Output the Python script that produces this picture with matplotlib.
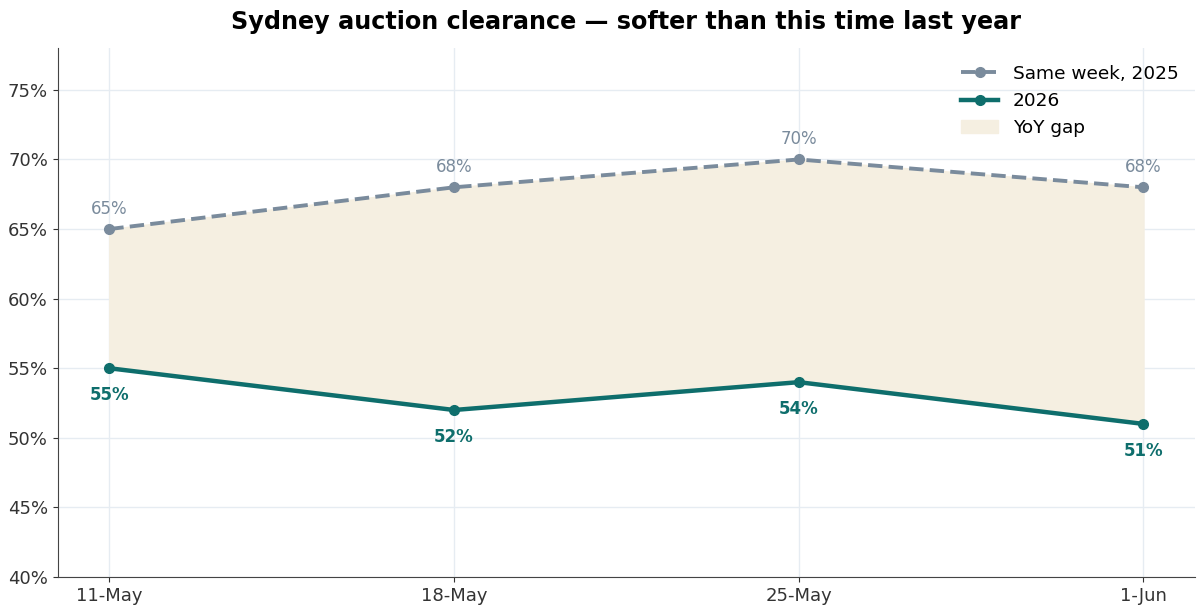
import matplotlib.pyplot as plt

weeks = ['11-May', '18-May', '25-May', '1-Jun']
last_year = [65, 68, 70, 68]
this_year = [55, 52, 54, 51]

grey = '#7a8b9c'
teal = '#0e6e6c'
fill = '#f5efe1'

fig = plt.figure(figsize=(12, 6.09), dpi=100)
ax = fig.add_axes([0.048, 0.0525, 0.948, 0.8685])

x = list(range(len(weeks)))
ax.fill_between(x, this_year, last_year, color=fill, label='YoY gap', zorder=1)
ax.plot(x, last_year, '--', color=grey, lw=2.8, marker='o', ms=7,
        label='Same week, 2025', zorder=3)
ax.plot(x, this_year, '-', color=teal, lw=3.2, marker='o', ms=7,
        label='2026', zorder=4)

for i, v in enumerate(last_year):
    ax.annotate(f'{v}%', (i, v), xytext=(0, 8), textcoords='offset points',
                ha='center', va='bottom', color=grey, fontsize=12)
for i, v in enumerate(this_year):
    ax.annotate(f'{v}%', (i, v), xytext=(0, -13), textcoords='offset points',
                ha='center', va='top', color=teal, fontsize=12, fontweight='bold')

ax.set_xlim(-0.15, 3.15)
ax.set_ylim(40, 78)
ax.set_yticks(range(40, 80, 5))
ax.set_yticklabels([f'{t}%' for t in range(40, 80, 5)])
ax.set_xticks(x)
ax.set_xticklabels(weeks)
ax.tick_params(labelsize=13, colors='#333333')
ax.grid(True, color='#e6ecf2', lw=1)
ax.set_axisbelow(True)
for s in ['top', 'right']:
    ax.spines[s].set_visible(False)
for s in ['left', 'bottom']:
    ax.spines[s].set_color('#444444')

handles, labels = ax.get_legend_handles_labels()
order = [1, 2, 0]
ax.legend([handles[i] for i in order], [labels[i] for i in order],
          loc='upper right', frameon=False, fontsize=13.3)

ax.set_title('Sydney auction clearance — softer than this time last year',
             fontsize=17.2, fontweight='bold', pad=14)

fig.savefig('out.png', dpi=100)
